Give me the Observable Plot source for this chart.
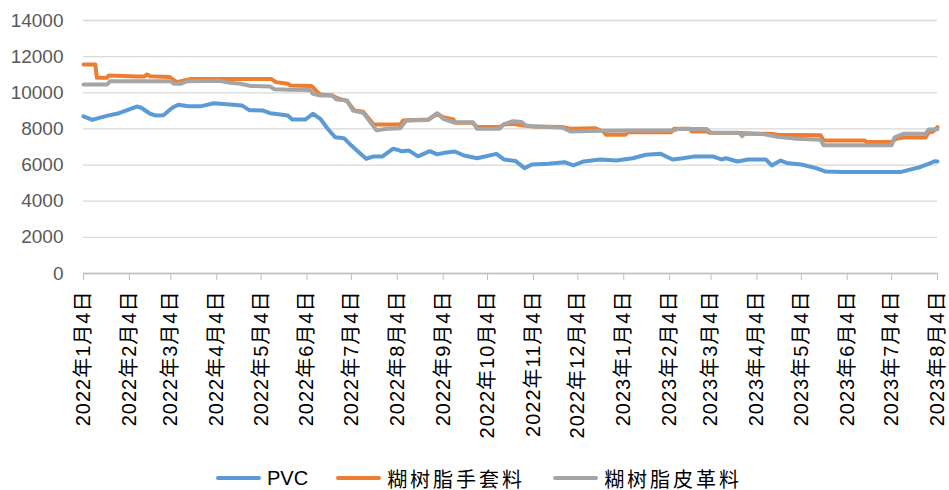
<!DOCTYPE html>
<html><head><meta charset="utf-8">
<script src="https://cdn.jsdelivr.net/npm/d3@7"></script>
<script src="https://cdn.jsdelivr.net/npm/@observablehq/plot@0.6"></script>
<style>
body{margin:0;background:#fff;}
#chart{width:949px;}
.legend{display:flex;align-items:center;padding-left:216px;margin-top:16px;height:24px;font-family:"Liberation Sans","Noto Sans CJK SC",sans-serif;font-size:20px;color:#000;}
.item{display:flex;align-items:center;margin-right:28px;}
.sw{width:45px;height:4px;margin-right:6px;border-radius:2px;}
.cjk{letter-spacing:3px;}
g[aria-label="x-axis tick label"] text{letter-spacing:1px;}
</style></head><body><div id="chart"></div><script>
const seriesNames = ["PVC", "糊树脂手套料", "糊树脂皮革料"];
const seriesColors = ["#5B9BD5", "#ED7D31", "#A5A5A5"];

const pvcDates = ["2022-01-04","2022-01-10","2022-01-14","2022-01-21","2022-01-28","2022-02-03","2022-02-09","2022-02-12","2022-02-18","2022-02-22","2022-02-27","2022-03-05","2022-03-09","2022-03-16","2022-03-24","2022-04-02","2022-04-15","2022-04-21","2022-04-26","2022-05-05","2022-05-10","2022-05-13","2022-05-22","2022-05-25","2022-06-03","2022-06-08","2022-06-13","2022-06-18","2022-06-23","2022-06-29","2022-07-04","2022-07-09","2022-07-14","2022-07-19","2022-07-25","2022-08-01","2022-08-04","2022-08-07","2022-08-12","2022-08-18","2022-08-26","2022-08-31","2022-09-05","2022-09-12","2022-09-18","2022-09-27","2022-10-10","2022-10-15","2022-10-23","2022-10-29","2022-11-03","2022-11-14","2022-11-25","2022-12-01","2022-12-08","2022-12-19","2022-12-30","2023-01-10","2023-01-19","2023-01-29","2023-02-06","2023-02-13","2023-02-21","2023-02-26","2023-03-05","2023-03-11","2023-03-14","2023-03-22","2023-03-29","2023-04-10","2023-04-14","2023-04-20","2023-04-25","2023-05-04","2023-05-14","2023-05-20","2023-06-01","2023-06-15","2023-07-10","2023-07-17","2023-07-23","2023-07-29","2023-08-02","2023-08-04"];
const pvcValues = [8700,8500,8600,8750,8870,9060,9240,9170,8840,8740,8760,9170,9340,9250,9250,9420,9340,9300,9040,9020,8870,8840,8740,8520,8520,8840,8560,8010,7540,7490,7080,6710,6350,6480,6480,6900,6850,6760,6800,6480,6770,6590,6680,6750,6530,6380,6620,6310,6220,5830,6030,6070,6160,5980,6200,6310,6250,6380,6570,6620,6310,6380,6480,6480,6480,6310,6380,6200,6310,6310,5980,6250,6100,6030,5830,5650,5610,5610,5610,5760,5880,6070,6210,6200];

const gloveDates = ["2022-01-04","2022-01-12","2022-01-13","2022-01-20","2022-01-21","2022-02-09","2022-02-14","2022-02-16","2022-02-18","2022-03-03","2022-03-08","2022-03-13","2022-03-18","2022-05-11","2022-05-14","2022-05-22","2022-05-24","2022-06-07","2022-06-10","2022-06-13","2022-06-21","2022-06-24","2022-07-01","2022-07-06","2022-07-12","2022-07-19","2022-08-06","2022-08-08","2022-08-25","2022-08-31","2022-09-04","2022-09-11","2022-09-12","2022-09-24","2022-09-27","2022-10-12","2022-10-15","2022-10-21","2022-10-28","2022-11-04","2022-11-24","2022-11-29","2022-12-16","2022-12-21","2022-12-23","2023-01-05","2023-01-07","2023-02-05","2023-02-07","2023-02-18","2023-02-19","2023-03-01","2023-03-03","2023-03-24","2023-03-27","2023-04-13","2023-04-18","2023-05-17","2023-05-19","2023-06-16","2023-06-17","2023-07-04","2023-07-07","2023-07-12","2023-07-27","2023-07-29","2023-08-01","2023-08-04"];
const gloveValues = [11570,11570,10830,10830,10960,10900,10900,11010,10920,10880,10590,10680,10760,10760,10590,10500,10400,10380,10130,9900,9850,9720,9540,9020,8950,8250,8250,8470,8520,8840,8650,8520,8340,8340,8100,8100,8250,8280,8190,8140,8100,8010,8040,7860,7680,7680,7820,7820,8010,8010,7860,7860,7790,7770,7730,7730,7680,7650,7360,7360,7270,7270,7450,7520,7520,7800,7860,8100];

const leatherDates = ["2022-01-04","2022-01-20","2022-01-22","2022-03-04","2022-03-06","2022-03-11","2022-03-15","2022-04-06","2022-04-13","2022-04-20","2022-04-27","2022-05-10","2022-05-13","2022-05-24","2022-06-06","2022-06-08","2022-06-13","2022-06-21","2022-06-24","2022-07-01","2022-07-05","2022-07-12","2022-07-21","2022-07-28","2022-08-06","2022-08-10","2022-08-25","2022-08-31","2022-09-04","2022-09-11","2022-09-24","2022-09-27","2022-10-12","2022-10-15","2022-10-21","2022-10-27","2022-10-30","2022-11-04","2022-11-24","2022-11-29","2022-12-19","2023-02-07","2023-02-09","2023-03-01","2023-03-04","2023-03-23","2023-03-25","2023-03-27","2023-04-09","2023-04-18","2023-05-01","2023-05-17","2023-05-19","2023-07-04","2023-07-06","2023-07-12","2023-07-27","2023-07-29","2023-08-04"];
const leatherValues = [10460,10460,10640,10640,10500,10500,10640,10660,10550,10500,10380,10350,10200,10170,10160,9950,9850,9850,9630,9580,9020,8890,7920,8010,8040,8470,8500,8870,8560,8370,8370,8010,8010,8250,8430,8380,8190,8150,8060,7860,7900,7920,8000,8000,7790,7790,7600,7780,7700,7560,7450,7400,7100,7100,7540,7730,7730,7970,7980];

const yTicks = [0,2000,4000,6000,8000,10000,12000,14000];
const tickDateStrings = ["2022-01-04","2022-02-04","2022-03-04","2022-04-04","2022-05-04","2022-06-04","2022-07-04","2022-08-04","2022-09-04","2022-10-04","2022-11-04","2022-12-04","2023-01-04","2023-02-04","2023-03-04","2023-04-04","2023-05-04","2023-06-04","2023-07-04","2023-08-04"];
const tickLabels = ["2022年1月4日","2022年2月4日","2022年3月4日","2022年4月4日","2022年5月4日","2022年6月4日","2022年7月4日","2022年8月4日","2022年9月4日","2022年10月4日","2022年11月4日","2022年12月4日","2023年1月4日","2023年2月4日","2023年3月4日","2023年4月4日","2023年5月4日","2023年6月4日","2023年7月4日","2023年8月4日"];

const seriesDates = [pvcDates, gloveDates, leatherDates];
const seriesValues = [pvcValues, gloveValues, leatherValues];
const rows = seriesNames.flatMap((name, s) =>
  seriesDates[s].map((d, i) => ({series: name, date: new Date(d), value: seriesValues[s][i]})));
const tickDates = tickDateStrings.map(d => new Date(d));

const font = "'Liberation Sans','Noto Sans CJK SC',sans-serif";
const plot = Plot.plot({
  width: 949, height: 450,
  marginTop: 20, marginLeft: 83, marginRight: 12, marginBottom: 177,
  style: {fontFamily: font, fontSize: "19px", background: "#fff", overflow: "visible"},
  x: {type: "utc", domain: [tickDates[0], tickDates[tickDates.length - 1]], label: null},
  y: {domain: [0, 14000], label: null},
  color: {domain: seriesNames, range: seriesColors},
  marks: [
    Plot.gridY(yTicks, {stroke: "#d9d9d9", strokeOpacity: 1, strokeWidth: 1.3}),
    Plot.axisY(yTicks, {tickSize: 0, tickPadding: 20, fill: "#595959", tickFormat: d => String(d), fontSize: 19, label: null}),
    Plot.ruleY([0], {stroke: "#bfbfbf", strokeWidth: 1.3}),
    Plot.axisX(tickDates, {tickRotate: -90, tickSize: 7, tickPadding: 10, stroke: "#bfbfbf", fill: "#000", fontSize: 20, label: null,
      tickFormat: d => tickLabels[tickDates.findIndex(t => +t === +d)]}),
    Plot.line(rows, {x: "date", y: "value", z: "series", stroke: "series", strokeWidth: 4, strokeLinejoin: "round", strokeLinecap: "round"})
  ]
});
document.getElementById("chart").appendChild(plot);

const legend = document.createElement("div");
legend.className = "legend";
seriesNames.forEach((name, i) => {
  const item = document.createElement("div");
  item.className = "item";
  const sw = document.createElement("span");
  sw.className = "sw";
  sw.style.background = seriesColors[i];
  const tx = document.createElement("span");
  tx.textContent = name;
  if (i > 0) tx.className = "cjk";
  item.appendChild(sw); item.appendChild(tx);
  legend.appendChild(item);
});
document.body.appendChild(legend);
</script></body></html>
